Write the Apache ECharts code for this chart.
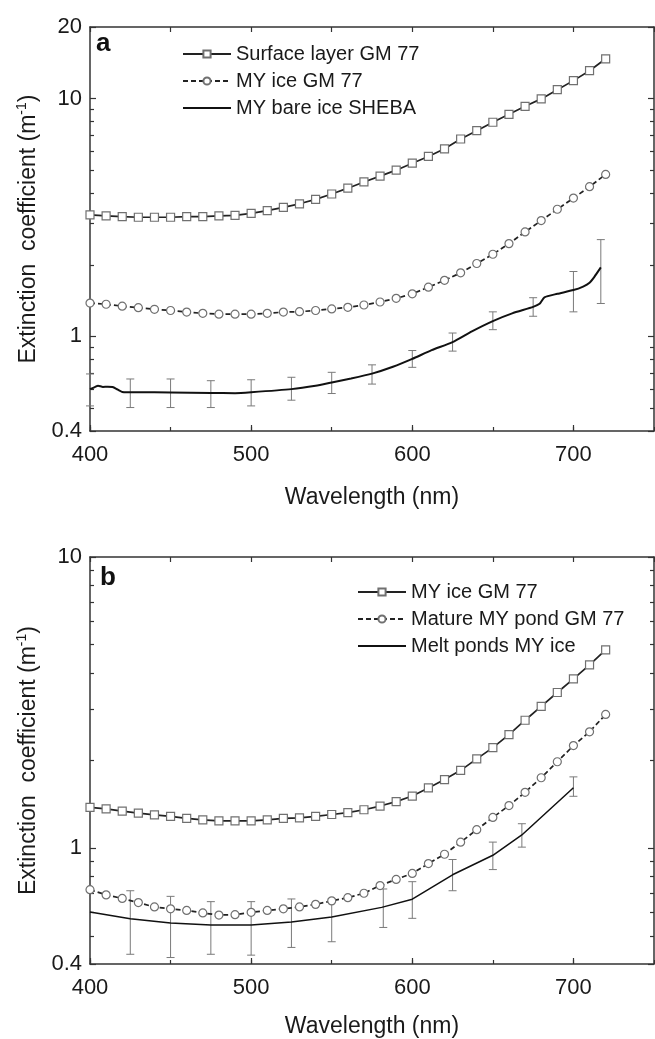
<!DOCTYPE html>
<html style="height: 100%">
<head>
    <meta charset="utf-8">
    <title>Extinction coefficient - GM 77 / SHEBA</title>
    <script type="text/javascript" src="https://cdn.jsdelivr.net/npm/echarts@6/dist/echarts.min.js"></script>
</head>
<body style="height: 100%; margin: 0; background: #fff">
    <div id="container" style="width: 655px; height: 1039px"></div>

    <script type="text/javascript">
        // wavelengths of the GM 77 curves (nm)
        var wavelengthGM = [400, 410, 420, 430, 440, 450, 460, 470, 480, 490, 500, 510, 520, 530, 540, 550, 560,
            570, 580, 590, 600, 610, 620, 630, 640, 650, 660, 670, 680, 690, 700, 710, 720];

        // panel a
        var surfaceLayerGM = [3.24, 3.21, 3.19, 3.17, 3.17, 3.17, 3.19, 3.19, 3.21, 3.23, 3.29, 3.38, 3.49, 3.61,
            3.77, 3.97, 4.20, 4.46, 4.72, 5.00, 5.35, 5.71, 6.15, 6.76, 7.33, 7.95, 8.59, 9.28, 9.97, 10.9, 11.9,
            13.1, 14.7];
        var myIceGM = [1.38, 1.365, 1.34, 1.32, 1.30, 1.285, 1.265, 1.25, 1.24, 1.24, 1.24, 1.25, 1.265, 1.27,
            1.285, 1.305, 1.325, 1.355, 1.395, 1.445, 1.51, 1.61, 1.72, 1.85, 2.025, 2.215, 2.455, 2.75, 3.07,
            3.425, 3.815, 4.26, 4.80];

        var shebaWavelength = [400, 403, 405, 408, 411, 414, 417, 420, 430, 450, 475, 490, 500, 525, 540, 550,
            562, 575, 588, 600, 612, 625, 637, 650, 662, 675, 679, 682, 690, 700, 706, 710, 713, 717];
        var shebaBareIce = [0.600, 0.612, 0.620, 0.613, 0.614, 0.612, 0.598, 0.584, 0.582, 0.581, 0.578, 0.577,
            0.582, 0.600, 0.620, 0.640, 0.665, 0.697, 0.745, 0.804, 0.875, 0.946, 1.05, 1.16, 1.25, 1.33, 1.37,
            1.46, 1.51, 1.566, 1.62, 1.68, 1.78, 1.95];
        var shebaErrWavelength = [400, 425, 450, 475, 500, 525, 550, 575, 600, 625, 650, 675, 700, 717];
        var shebaErrLow = [0.510, 0.502, 0.502, 0.502, 0.510, 0.539, 0.575, 0.630, 0.741, 0.867, 1.067, 1.215,
            1.268, 1.375];
        var shebaErrHigh = [0.695, 0.662, 0.662, 0.651, 0.657, 0.673, 0.706, 0.759, 0.872, 1.033, 1.268, 1.454,
            1.874, 2.552];

        // panel b
        var maturePondGM = [0.720, 0.691, 0.672, 0.650, 0.628, 0.619, 0.611, 0.599, 0.589, 0.591, 0.602, 0.611,
            0.619, 0.628, 0.641, 0.659, 0.676, 0.700, 0.744, 0.781, 0.819, 0.885, 0.953, 1.048, 1.157, 1.275,
            1.40, 1.555, 1.745, 1.98, 2.25, 2.51, 2.88];

        var pondWavelength = [400, 425, 450, 475, 500, 525, 550, 581, 600, 625, 650, 668, 700];
        var meltPonds = [0.604, 0.572, 0.553, 0.544, 0.544, 0.558, 0.580, 0.626, 0.668, 0.810, 0.945, 1.110, 1.613];
        var pondErrWavelength = [425, 450, 475, 500, 525, 550, 582, 600, 625, 650, 668, 700];
        var pondErrLow = [0.432, 0.421, 0.432, 0.429, 0.456, 0.477, 0.534, 0.574, 0.714, 0.844, 1.008, 1.507];
        var pondErrHigh = [0.714, 0.683, 0.655, 0.655, 0.669, 0.669, 0.724, 0.767, 0.914, 1.049, 1.213, 1.757];

        // tick values
        var yMajorA = [0.4, 1, 10, 20];
        var yMajorB = [0.4, 1, 10];
        var yMinor = [0.5, 0.6, 0.7, 0.8, 0.9, 2, 3, 4, 5, 6, 7, 8, 9];

        var fontFamily = '"Liberation Sans", Arial, sans-serif';
        var frameColor = '#333';
        var textColor = '#1a1a1a';
        var markerColor = '#707070';

        function zip(xs, ys) {
            return xs.map(function (x, i) { return [x, ys[i]]; });
        }
        function zip3(xs, lo, hi) {
            return xs.map(function (x, i) { return [x, lo[i], hi[i]]; });
        }

        function xAxes(g, nameGap) {
            return [{
                gridIndex: g, type: 'value', min: 400, max: 750, interval: 100, position: 'bottom',
                name: 'Wavelength (nm)', nameLocation: 'middle', nameGap: nameGap,
                nameTextStyle: { fontSize: 23, color: textColor, fontFamily: fontFamily },
                axisLine: { show: true, onZero: false, lineStyle: { color: frameColor, width: 1.5 } },
                axisTick: { show: true, inside: true, length: 6, lineStyle: { color: frameColor, width: 1.2 } },
                axisLabel: { fontSize: 22, color: textColor, margin: 13, showMaxLabel: false, fontFamily: fontFamily },
                splitLine: { show: false }
            }, {
                // minor ticks 450, 550, ...
                gridIndex: g, type: 'value', min: 400, max: 750, interval: 50, position: 'bottom',
                axisLine: { show: false },
                axisTick: { show: true, inside: true, length: 4, lineStyle: { color: frameColor, width: 1.2 } },
                axisLabel: { show: false },
                splitLine: { show: false }
            }, {
                gridIndex: g, type: 'value', min: 400, max: 750, interval: 50, position: 'top',
                axisLine: { show: true, onZero: false, lineStyle: { color: frameColor, width: 1.5 } },
                axisTick: { show: true, inside: true, length: 5, lineStyle: { color: frameColor, width: 1.2 } },
                axisLabel: { show: false },
                splitLine: { show: false }
            }];
        }

        function yAxes(g, yMax, major) {
            var base = { gridIndex: g, type: 'log', logBase: 10, min: 0.4, max: yMax, splitLine: { show: false } };
            return [
                Object.assign({}, base, {
                    position: 'left',
                    name: '{t|Extinction  coefficient (m}{s|-1}{t|)}',
                    nameLocation: 'middle', nameGap: 48,
                    nameTextStyle: {
                        color: textColor, fontFamily: fontFamily,
                        rich: {
                            t: { fontSize: 23, lineHeight: 27, color: textColor, fontFamily: fontFamily },
                            s: { fontSize: 14, lineHeight: 27, verticalAlign: 'top', color: textColor, fontFamily: fontFamily }
                        }
                    },
                    axisLine: { show: true, lineStyle: { color: frameColor, width: 1.5 } },
                    axisTick: { show: true, inside: true, length: 6, customValues: major, lineStyle: { color: frameColor, width: 1.2 } },
                    axisLabel: { fontSize: 22, color: textColor, margin: 8, customValues: major, fontFamily: fontFamily }
                }),
                Object.assign({}, base, {
                    position: 'left',
                    axisLine: { show: false },
                    axisTick: { show: true, inside: true, length: 4, customValues: yMinor, lineStyle: { color: frameColor, width: 1.2 } },
                    axisLabel: { show: false }
                }),
                Object.assign({}, base, {
                    position: 'right',
                    axisLine: { show: true, lineStyle: { color: frameColor, width: 1.5 } },
                    axisTick: { show: true, inside: true, length: 6, customValues: major, lineStyle: { color: frameColor, width: 1.2 } },
                    axisLabel: { show: false }
                }),
                Object.assign({}, base, {
                    position: 'right',
                    axisLine: { show: false },
                    axisTick: { show: true, inside: true, length: 4, customValues: yMinor, lineStyle: { color: frameColor, width: 1.2 } },
                    axisLabel: { show: false }
                })
            ];
        }

        function markerSeries(name, xi, yi, data, symbol, dashed) {
            return {
                name: name, type: 'line', xAxisIndex: xi, yAxisIndex: yi,
                data: data,
                symbol: symbol, symbolSize: 8, showAllSymbol: true,
                itemStyle: { color: '#fff', borderColor: markerColor, borderWidth: 1.2 },
                lineStyle: { color: '#222', width: 1.7, type: dashed ? [5, 3] : 'solid' },
                emphasis: { disabled: true },
                z: 3
            };
        }

        // plain line, no symbol (transparent item colour keeps the legend icon a bare line)
        function plainSeries(name, xi, yi, data, width, smooth) {
            return {
                name: name, type: 'line', xAxisIndex: xi, yAxisIndex: yi,
                data: data,
                symbol: 'none', smooth: smooth,
                lineStyle: { color: '#111', width: width },
                itemStyle: { color: 'rgba(0,0,0,0)' },
                emphasis: { disabled: true },
                z: 2
            };
        }

        function errorBars(xi, yi, data) {
            return {
                type: 'custom', xAxisIndex: xi, yAxisIndex: yi,
                encode: { x: 0, y: [1, 2] },
                data: data,
                z: 1,
                renderItem: function (params, api) {
                    var x = api.value(0);
                    var lo = api.coord([x, api.value(1)]);
                    var hi = api.coord([x, api.value(2)]);
                    var w = 4;
                    var style = { stroke: '#7a7a7a', lineWidth: 1 };
                    return {
                        type: 'group',
                        children: [
                            { type: 'line', shape: { x1: lo[0], y1: lo[1], x2: hi[0], y2: hi[1] }, style: style },
                            { type: 'line', shape: { x1: lo[0] - w, y1: lo[1], x2: lo[0] + w, y2: lo[1] }, style: style },
                            { type: 'line', shape: { x1: hi[0] - w, y1: hi[1], x2: hi[0] + w, y2: hi[1] }, style: style }
                        ]
                    };
                }
            };
        }

        var legendText = { fontSize: 20, color: textColor, fontFamily: fontFamily };

        var dom = document.getElementById('container');
        var myChart = echarts.init(dom, null, { renderer: 'canvas' });
        var option = {
            animation: false,
            backgroundColor: '#fff',
            textStyle: { fontFamily: fontFamily },
            title: [
                { text: 'a', left: 96, top: 31, padding: 0, textStyle: { fontSize: 26, fontWeight: 'bold', color: '#111', fontFamily: fontFamily } },
                { text: 'b', left: 100, top: 565, padding: 0, textStyle: { fontSize: 26, fontWeight: 'bold', color: '#111', fontFamily: fontFamily } }
            ],
            legend: [{
                data: ['Surface layer GM 77', 'MY ice GM 77', 'MY bare ice SHEBA'],
                orient: 'vertical', left: 182, top: 44, padding: 0,
                itemWidth: 48, itemHeight: 9, itemGap: 7,
                selectedMode: false,
                textStyle: legendText
            }, {
                // trailing space keeps this name apart from panel a's circle series
                data: ['MY ice GM 77 ', 'Mature MY pond GM 77', 'Melt ponds MY ice'],
                orient: 'vertical', left: 357, top: 582, padding: 0,
                itemWidth: 48, itemHeight: 9, itemGap: 7,
                selectedMode: false,
                textStyle: legendText
            }],
            grid: [
                { left: 90, top: 27, width: 564, height: 404, outerBoundsMode: 'none' },
                { left: 90, top: 557, width: 564, height: 407, outerBoundsMode: 'none' }
            ],
            xAxis: xAxes(0, 55).concat(xAxes(1, 51)),
            yAxis: yAxes(0, 20, yMajorA).concat(yAxes(1, 10, yMajorB)),
            series: [
                errorBars(0, 0, zip3(shebaErrWavelength, shebaErrLow, shebaErrHigh)),
                markerSeries('Surface layer GM 77', 0, 0, zip(wavelengthGM, surfaceLayerGM), 'rect', false),
                markerSeries('MY ice GM 77', 0, 0, zip(wavelengthGM, myIceGM), 'circle', true),
                plainSeries('MY bare ice SHEBA', 0, 0, zip(shebaWavelength, shebaBareIce), 2, 0.2),

                errorBars(3, 4, zip3(pondErrWavelength, pondErrLow, pondErrHigh)),
                markerSeries('MY ice GM 77 ', 3, 4, zip(wavelengthGM, myIceGM), 'rect', false),
                markerSeries('Mature MY pond GM 77', 3, 4, zip(wavelengthGM, maturePondGM), 'circle', true),
                plainSeries('Melt ponds MY ice', 3, 4, zip(pondWavelength, meltPonds), 1.5, false)
            ]
        };
        myChart.setOption(option, true);
    </script>
</body>
</html>
